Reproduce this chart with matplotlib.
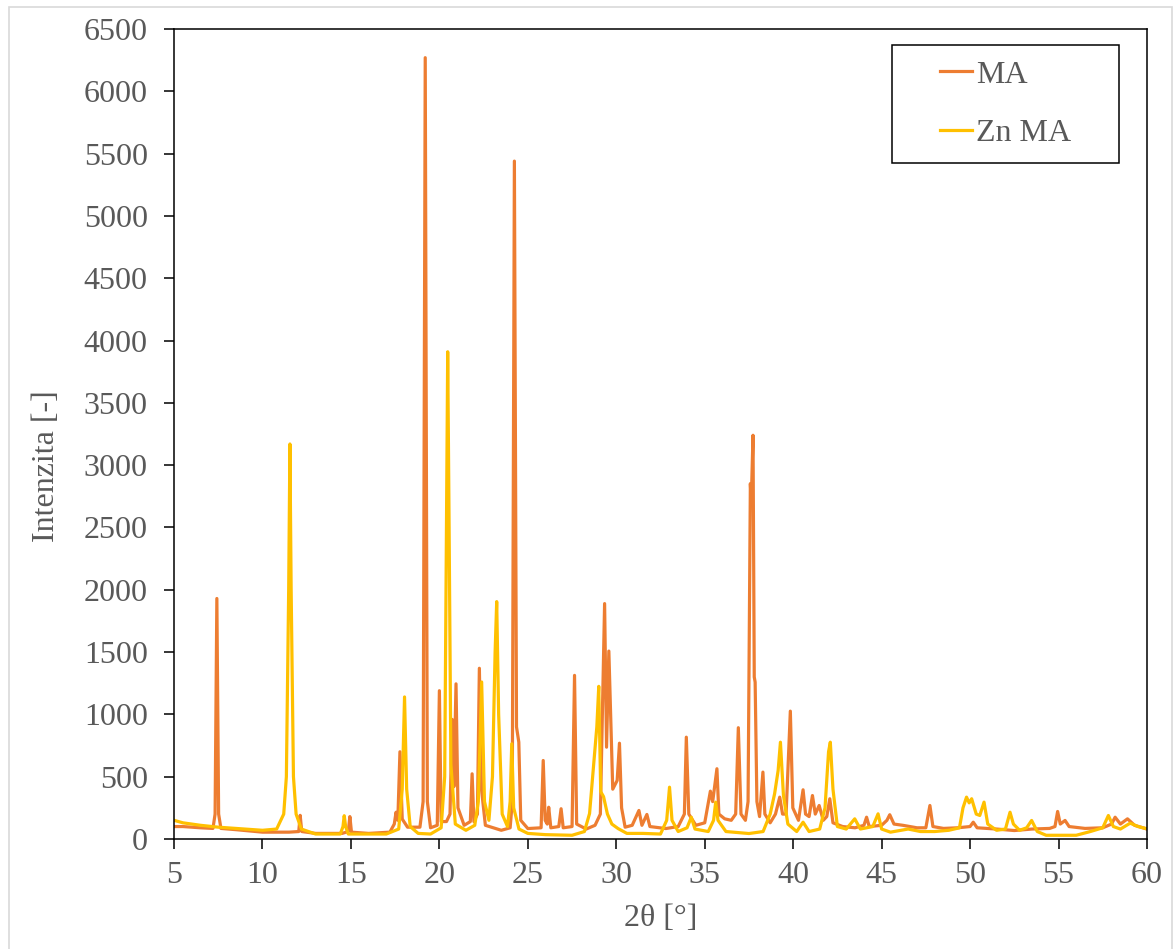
import matplotlib.pyplot as plt
from matplotlib.patches import Rectangle

# diffraction patterns, 2theta in degrees vs. counts
ma_2theta = [5.0, 5.5, 6.5, 7.2, 7.32, 7.42, 7.52, 7.65, 8.5, 10.0, 11.5, 12.05, 12.13, 12.22,
             13.0, 14.5, 14.85, 14.94, 15.03, 16.0, 17.2, 17.45, 17.55, 17.65, 17.77, 17.9,
             18.2, 18.9, 19.08, 19.2, 19.32, 19.5, 19.88, 20.0, 20.1, 20.4, 20.6, 20.72, 20.82,
             20.94, 21.05, 21.4, 21.75, 21.85, 21.95, 22.15, 22.26, 22.38, 22.6, 23.5, 24.0,
             24.12, 24.24, 24.36, 24.49, 24.6, 25.0, 25.75, 25.87, 25.98, 26.1, 26.18, 26.3,
             26.75, 26.88, 27.0, 27.5, 27.64, 27.76, 28.3, 28.8, 29.1, 29.34, 29.45, 29.58,
             29.8, 30.05, 30.18, 30.3, 30.5, 30.9, 31.28, 31.45, 31.73, 31.9, 32.8, 33.5,
             33.85, 33.96, 34.1, 34.5, 35.0, 35.32, 35.45, 35.69, 35.8, 36.13, 36.5, 36.75,
             36.9, 37.05, 37.3, 37.45, 37.58, 37.63, 37.73, 37.8, 37.85, 37.95, 38.1, 38.29,
             38.4, 38.7, 39.0, 39.24, 39.4, 39.6, 39.84, 39.98, 40.3, 40.56, 40.7, 40.9,
             41.09, 41.25, 41.47, 41.7, 41.9, 42.07, 42.25, 42.8, 43.5, 44.0, 44.15, 44.3,
             45.0, 45.3, 45.46, 45.7, 46.2, 47.0, 47.5, 47.73, 47.9, 48.5, 49.3, 50.0, 50.18,
             50.4, 51.5, 52.5, 53.5, 54.5, 54.8, 54.95, 55.1, 55.37, 55.6, 56.5, 57.5, 58.0,
             58.2, 58.5, 58.9, 59.3, 60.0]
ma_counts = [100, 100, 90, 85, 200, 1930, 200, 85, 75, 55, 55, 60, 190, 60,
             45, 45, 60, 180, 55, 45, 55, 120, 215, 150, 700, 160,
             95, 95, 300, 6270, 300, 90, 110, 1190, 140, 140, 200, 960, 420,
             1245, 250, 110, 140, 523, 140, 200, 1370, 400, 110, 70, 90,
             300, 5440, 900, 777, 150, 84, 90, 630, 150, 120, 255, 90,
             100, 243, 90, 100, 1313, 120, 80, 110, 200, 1889, 737, 1508,
             400, 470, 769, 250, 95, 110, 229, 110, 197, 100, 84, 100,
             200, 817, 200, 110, 130, 384, 300, 564, 200, 162, 150, 200,
             893, 200, 150, 300, 2852, 2700, 3240, 1300, 1259, 300, 180, 537,
             200, 130, 200, 336, 200, 200, 1026, 250, 150, 395, 200, 180,
             349, 200, 269, 150, 180, 323, 130, 100, 90, 110, 175, 100,
             110, 150, 195, 120, 110, 90, 90, 269, 100, 85, 90, 100, 135,
             90, 80, 68, 80, 85, 100, 221, 120, 149, 100, 85, 90, 120,
             175, 120, 162, 110, 80]

zn_2theta = [5.0, 5.5, 6.5, 7.5, 9.0, 10.0, 10.8, 11.2, 11.35, 11.48, 11.55, 11.62, 11.75,
             11.9, 12.2, 13.0, 14.4, 14.55, 14.62, 14.7, 14.85, 17.0, 17.7, 17.9, 18.03,
             18.15, 18.35, 18.8, 19.5, 20.1, 20.3, 20.4, 20.47, 20.55, 20.65, 20.9, 21.5,
             22.0, 22.2, 22.39, 22.55, 22.8, 23.0, 23.15, 23.24, 23.35, 23.55, 23.85, 24.0,
             24.09, 24.2, 24.5, 25.0, 26.0, 27.5, 28.2, 28.49, 28.77, 28.9, 29.01, 29.12,
             29.28, 29.5, 29.75, 30.1, 30.6, 31.5, 32.5, 32.85, 33.01, 33.15, 33.5, 34.0,
             34.24, 34.45, 35.2, 35.5, 35.62, 35.75, 36.2, 37.5, 38.3, 38.7, 38.95, 39.15,
             39.28, 39.45, 39.7, 40.2, 40.56, 40.9, 41.5, 41.8, 42.0, 42.1, 42.25, 42.5,
             43.0, 43.48, 43.8, 44.5, 44.8, 45.0, 45.5, 46.5, 47.2, 48.0, 48.8, 49.4, 49.6,
             49.8, 49.95, 50.09, 50.35, 50.55, 50.79, 51.0, 51.5, 52.0, 52.26, 52.45, 52.8,
             53.2, 53.48, 53.8, 54.3, 56.0, 56.8, 57.5, 57.82, 58.1, 58.5, 59.05, 59.5, 60.0]
zn_counts = [150, 130, 110, 95, 80, 70, 80, 200, 500, 2000, 3170, 2000, 500,
             200, 80, 40, 40, 100, 187, 100, 40, 40, 80, 400, 1140,
             400, 100, 45, 40, 90, 500, 2500, 3910, 2500, 600, 120, 70,
             110, 300, 1260, 300, 150, 500, 1500, 1905, 1000, 200, 100, 300,
             764, 250, 80, 45, 35, 30, 60, 205, 687, 900, 1225, 380,
             340, 200, 120, 84, 45, 45, 40, 150, 416, 150, 60, 90,
             175, 80, 60, 150, 296, 150, 60, 44, 60, 200, 363, 550,
             777, 350, 120, 60, 135, 60, 80, 250, 700, 777, 400, 100,
             80, 162, 80, 100, 202, 80, 55, 80, 60, 60, 70, 90, 250,
             336, 290, 323, 200, 189, 296, 120, 70, 80, 215, 120, 70,
             90, 149, 60, 30, 30, 60, 90, 189, 100, 80, 127, 100, 82]

serif = ['Liberation Serif', 'DejaVu Serif']
grey = '#595959'

fig = plt.figure(figsize=(11.76, 9.49), dpi=100)
ax = fig.add_axes([0.148, 0.1159, 0.8273, 0.8535])

# light frame around the whole chart
fig.patches.append(Rectangle((0.0077, -0.01), 0.9889, 1.0026, transform=fig.transFigure,
                             fill=False, edgecolor='#D9D9D9', linewidth=1.2))

ax.plot(ma_2theta, ma_counts, color='#ED7D31', lw=2.3, label='MA')
ax.plot(zn_2theta, zn_counts, color='#FFC000', lw=2.3, label='Zn MA')

ax.set_xlim(5, 60)
ax.set_ylim(0, 6500)
ax.set_xticks(range(5, 61, 5))
ax.set_yticks(range(0, 6501, 500))
ax.tick_params(direction='out', length=7, width=1.1, colors='black', labelcolor=grey,
               labelsize=23)
ax.tick_params(axis='y', pad=12)
ax.tick_params(axis='x', pad=9)
for lab in ax.get_xticklabels() + ax.get_yticklabels():
    lab.set_family(serif)
for sp in ax.spines.values():
    sp.set_linewidth(1.1)

ax.set_xlabel('2θ [°]', family=serif, fontsize=23, color=grey, labelpad=10)
ax.set_ylabel('Intenzita [-]', family=serif, fontsize=23, color=grey)
ax.yaxis.set_label_coords(-0.116, 0.46)

# legend box drawn separately so the entries sit centred inside it
ax.add_patch(Rectangle((0.7379, 0.8346), 0.2333, 0.1457, transform=ax.transAxes,
                       fill=False, edgecolor='black', linewidth=1.1, zorder=5))
leg = ax.legend(loc='center', bbox_to_anchor=(0.8546, 0.9074), frameon=False,
                prop={'family': serif, 'size': 23}, handlelength=1.0, handletextpad=0.15,
                labelspacing=0.9, borderpad=0)
for t in leg.get_texts():
    t.set_color(grey)

fig.savefig('out.png', dpi=100)
